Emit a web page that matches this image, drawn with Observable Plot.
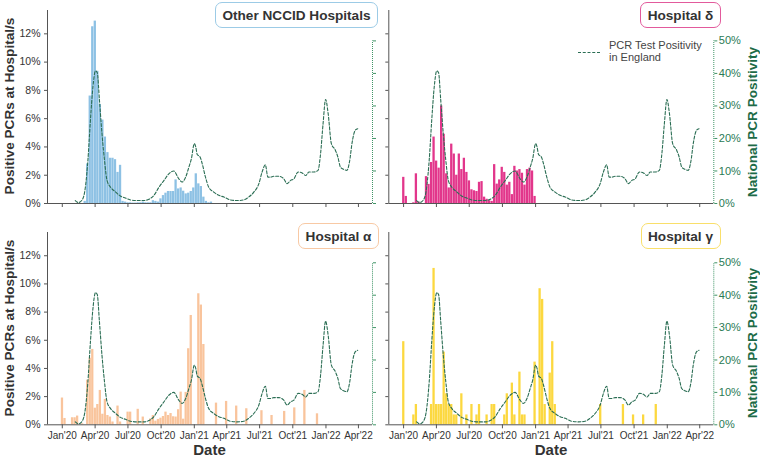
<!DOCTYPE html>
<html><head><meta charset="utf-8">
<script src="https://cdn.jsdelivr.net/npm/d3@7"></script>
<script src="https://cdn.jsdelivr.net/npm/@observablehq/plot@0.6"></script>
<style>
body{margin:0;background:#fff;font-family:"Liberation Sans",Arial,sans-serif;}
#wrap{position:relative;width:760px;height:457px;overflow:hidden;background:#fff;}
.panel{position:absolute;}
.box{position:absolute;border:1.3px solid;border-radius:7px;background:#fff;font-weight:bold;font-size:13.6px;color:#333;display:flex;align-items:center;justify-content:center;box-sizing:border-box;white-space:nowrap;}
.rot{position:absolute;font-weight:bold;font-size:13.6px;white-space:nowrap;transform:translate(-50%,-50%) rotate(-90deg);}
.xl{position:absolute;font-weight:bold;font-size:15px;color:#333;transform:translate(-50%,-50%);}
</style>
</head><body>
<div id="wrap"></div>
<script>
// ---------- data ----------
const xTickDates = ["2020-01-01","2020-04-01","2020-07-01","2020-10-01","2021-01-01","2021-04-01","2021-07-01","2021-10-01","2022-01-01","2022-04-01"];
const leftTicks = [0,2,4,6,8,10,12];
const rightTicks = [0,10,20,30,40,50];

// weekly positivity at hospital(s), % (weeks start on the given Sunday)
const otherStart = "2020-03-01";
const otherValues = [0.15,2.8,7.6,12.5,12.9,9.35,7.0,5.9,4.7,3.6,3.2,3.2,3.1,2.2,2.7,
  0.15,0.1,0.05,0.05,0.03,0.03,0.05,0.05,0.1,0.05,0.05,0.05,
  0.2,0.15,0.1,0.33,0.56,0.73,0.85,0.85,0.85,1.67,1.03,1.1,0.87,0.68,0.73,0.85,1.1,2.1,1.39,1.2,0.45,0.15,0.05,0.1];

const deltaStart = "2019-12-29";
const deltaValues = [1.85,0.5,0,0,0.05,2.1,0.1,0,0,1.9,1.35,2.9,4.7,3.0,2.5,6.9,4.9,2.1,1.1,4.2,
  3.5,2.0,3.5,2.4,3.2,2.2,1.6,0.97,0.9,0.85,1.5,1.55,0.45,0.3,0.2,0.15,2.75,1.37,1.67,2.56,
  2.2,1.3,1.5,0.63,2.63,2.3,2.4,2.14,1.3,2.4,2.5,2.3,0.5];

const alphaStart = "2019-12-29";
const alphaValues = [1.9,0.45,0,0,0.5,0.5,0.62,0,0.07,0,3.17,4.73,5.35,1.18,1.44,2.44,0.75,1.8,0.66,0.55,
  0.2,0,1.33,0.2,0,0,0.9,0.9,0,0,1.1,0,0.55,0,0,0.42,0.66,0.26,0.38,0.47,
  0.59,0.9,0.66,0.8,0.57,0.55,1.07,2.32,0.4,2.3,5.4,7.76,0,0,9.3,8.5,5.7,0,0,0,
  0,1.54,0,0,0,1.66,0,0,0,1.33,0,0,0,1.14,0,0,0,0,0,1.0,
  0,0,0,0.66,0,0,0,0,0.95,0,0,0,1.2,0,0,0,2.44,0,0,0,0,0.78];

const gammaStart = "2019-12-29";
const gammaValues = [5.9,0,0,0,0.7,1.44,0,0,0,0,0,1.44,11.1,1.44,1.44,1.44,5.16,2.2,1.44,1.44,
  0.7,0.7,0,2.2,0,0.7,0,1.44,0,0.7,1.44,0,0,0.7,0,1.44,1.44,0,0,0,
  0.7,2.2,0,2.96,0.7,0,3.74,0.7,0.7,0,0,0,4.45,0,9.66,8.9,1.44,0,3.67,5.9,
  1.44,0,0,0,0,0,0,0,0,0,0,0,0,0,0,0,0,0,1.44,0,
  0,0,0,0,0,0,0,1.44,0,0,0,0.7,0,0,0,0.7,0,0,0,0,1.44];

// national PCR test positivity in England, %
const natDates = ["2020-02-06","2020-02-15","2020-02-25","2020-03-05","2020-03-12","2020-03-19","2020-03-26","2020-04-02","2020-04-07","2020-04-13",
  "2020-04-20","2020-04-27","2020-05-04","2020-05-14","2020-05-28","2020-06-10","2020-06-24","2020-07-08","2020-07-27","2020-08-14",
  "2020-08-28","2020-09-11","2020-09-25","2020-10-09","2020-10-23","2020-11-05","2020-11-19","2020-11-28","2020-12-08","2020-12-17",
  "2020-12-24","2021-01-01","2021-01-05","2021-01-09","2021-01-17","2021-01-23","2021-02-01","2021-02-10","2021-02-24","2021-03-10",
  "2021-03-24","2021-04-11","2021-04-30","2021-05-18","2021-06-01","2021-06-15","2021-06-29","2021-07-08","2021-07-17","2021-07-24",
  "2021-07-31","2021-08-09","2021-08-23","2021-09-06","2021-09-15","2021-09-25","2021-10-04","2021-10-16","2021-10-27","2021-11-06",
  "2021-11-15","2021-11-29","2021-12-10","2021-12-17","2021-12-24","2021-12-31","2022-01-07","2022-01-16","2022-01-27","2022-02-03",
  "2022-02-10","2022-02-19","2022-02-28","2022-03-08","2022-03-14","2022-03-23","2022-03-30"];
const natValues = [0.9,0.3,1.1,5.0,13.3,25.6,35.9,40.8,40.2,31.8,
  21.5,13.3,7.1,5.0,3.5,2.3,1.7,1.1,0.9,0.9,
  1.3,2.5,5.0,7.1,9.2,10.0,7.6,6.6,8.1,11.2,
  13.8,18.4,17.4,15.1,14.3,12.2,8.1,5.0,3.5,2.5,
  2.0,1.1,0.9,1.1,2.0,3.5,6.1,9.7,11.9,8.1,
  8.1,8.4,8.4,7.6,6.1,7.1,7.6,9.7,9.4,8.6,
  9.7,9.7,10.2,15.3,24.6,32.0,27.7,18.4,16.4,14.3,
  11.2,10.5,10.2,13.3,18.4,22.5,23.0];

// ---------- styling ----------
const FONT = '"Liberation Sans", Arial, sans-serif';
const K = 0.23;              // national % -> left-axis units
const AX = "#555";
const LINE = "#2b6e54";
const RGREEN = "#3f9466";
const GTEXT = "#2a7a55";
const xDomain = [new Date("2019-11-21"), new Date("2022-05-10")];
const yDomain = [0, 13.65];
const fmt = d3.utcFormat("%b'%y");

const nat = natDates.map((d, i) => ({date: new Date(d), v: natValues[i]}));
const xTicks = xTickDates.map(d => new Date(d));

function makePanel({values, start, color, left, bottom}) {
  const weeks = values.map((v, i) => ({start: d3.utcWeek.offset(new Date(start), i), v}))
    .filter(d => d.v > 0)
    .map(d => ({...d, end: d3.utcWeek.offset(d.start, 1)}));
  return Plot.plot({
    width: 380, height: bottom ? 242 : 215,
    marginLeft: left ? 47 : 8.3, marginRight: left ? 8 : 46.7,
    marginTop: bottom ? 17 : 10, marginBottom: bottom ? 32.7 : 12,
    x: {type: "utc", domain: xDomain},
    y: {domain: yDomain},
    style: {fontFamily: FONT, background: "transparent", overflow: "visible"},
    marks: [
      Plot.rect(weeks, {x1: "start", x2: "end", y1: d => 0, y2: "v", fill: color, insetLeft: 0.12, insetRight: 0.12}),
      Plot.line(nat, {x: "date", y: d => d.v * K, stroke: LINE, strokeWidth: 1.1, strokeDasharray: "3,1.8", curve: "monotone-x"}),
      Plot.ruleY([0], {stroke: AX}),
      Plot.ruleX([xDomain[0]], {stroke: AX}),
      Plot.ruleX([xDomain[1]], {y1: d => 0, y2: d => 50 * K, stroke: RGREEN, strokeDasharray: "1,1"}),
      Plot.axisX(xTicks, {anchor: "bottom", tickSize: 4, tickPadding: 3, stroke: AX, fill: "#333", fontSize: 10,
        tickFormat: bottom ? fmt : () => "", label: null}),
      Plot.axisY(leftTicks, {anchor: "left", tickSize: 3, tickPadding: 4, stroke: AX, fill: "#333", fontSize: 10.5,
        tickFormat: left ? d => d + "%" : () => "", label: null}),
      Plot.axisY(rightTicks.map(t => t * K), {anchor: "right", tickSize: 3, tickPadding: 2, stroke: RGREEN, fill: GTEXT, fontSize: 11,
        tickFormat: left ? () => "" : d => Math.round(d / K) + "%", label: null})
    ]
  });
}

const wrap = document.getElementById("wrap");
const panels = [
  {values: otherValues, start: otherStart, color: "#8dc1e4", left: true, bottom: false, x: 0, y: 0,
   title: "Other NCCID Hospitals", border: "#9ccbe6", box: [215, 2, 163, 26]},
  {values: deltaValues, start: deltaStart, color: "#e2368b", left: false, bottom: false, x: 380, y: 0,
   title: "Hospital δ", border: "#e25a9c", box: [640, 2, 81, 26]},
  {values: alphaValues, start: alphaStart, color: "#f9c49c", left: true, bottom: true, x: 0, y: 215,
   title: "Hospital α", border: "#f8c9a4", box: [298, 223, 81, 26]},
  {values: gammaValues, start: gammaStart, color: "#fcd83f", left: false, bottom: true, x: 380, y: 215,
   title: "Hospital γ", border: "#f9df6a", box: [640.5, 223, 80, 26]}
];

for (const p of panels) {
  const div = document.createElement("div");
  div.className = "panel";
  div.style.left = p.x + "px"; div.style.top = p.y + "px";
  div.appendChild(makePanel(p));
  wrap.appendChild(div);
}
for (const p of panels) {
  const b = document.createElement("div");
  b.className = "box";
  b.textContent = p.title;
  b.style.left = p.box[0] + "px"; b.style.top = p.box[1] + "px";
  b.style.width = p.box[2] + "px"; b.style.height = p.box[3] + "px";
  b.style.borderColor = p.border;
  wrap.appendChild(b);
}
function addText(cls, text, x, y, color) {
  const t = document.createElement("div");
  t.className = cls; t.textContent = text;
  t.style.left = x + "px"; t.style.top = y + "px";
  if (color) t.style.color = color;
  wrap.appendChild(t);
}
addText("rot", "Positive PCRs at Hospital/s", 9, 106, "#333");
addText("rot", "Positive PCRs at Hospital/s", 9, 328, "#333");
addText("rot", "National PCR Positivity", 752, 122, "#1d6b47");
addText("rot", "National PCR Positivity", 752, 343, "#1d6b47");
addText("xl", "Date", 209.5, 449);
addText("xl", "Date", 551, 449);

// legend
const lg = document.createElement("div");
lg.style.cssText = "position:absolute;left:578px;top:51.5px;width:22px;height:0;border-top:1.2px dashed " + LINE + ";";
wrap.appendChild(lg);
const lt = document.createElement("div");
lt.style.cssText = "position:absolute;left:609px;top:38.5px;font-size:11px;line-height:12.5px;color:#444;";
lt.innerHTML = "PCR Test Positivity<br>in England";
wrap.appendChild(lt);
</script>
</body></html>
